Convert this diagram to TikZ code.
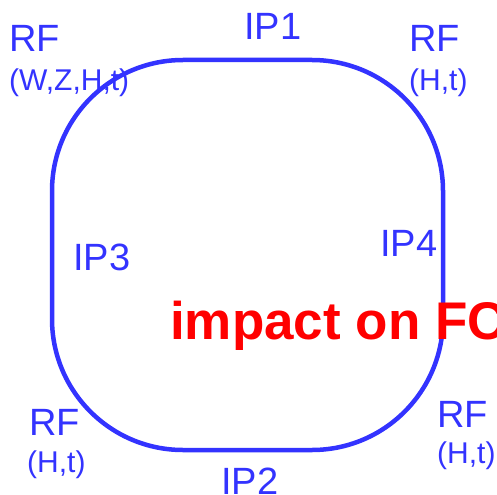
\documentclass[tikz,border=0pt]{standalone}
\usepackage{fontspec}
\setmainfont{Liberation Sans}
\usepackage{tikz}
\usetikzlibrary{positioning}
\definecolor{ringblue}{RGB}{51, 51, 255}
\definecolor{impactred}{RGB}{255, 0, 0}
\tikzset{
  biglabel/.style={ringblue, anchor=base west, inner sep=0pt, font=\fontsize{38bp}{40bp}\selectfont},
  smalllabel/.style={ringblue, anchor=base west, inner sep=0pt, font=\fontsize{30bp}{32bp}\selectfont}
}
\begin{document}
\begin{tikzpicture}[x=1bp, y=-1bp]
        \useasboundingbox (0,0) rectangle (497,495);

        % The ring
        \draw[ringblue, line width=4.5bp, rounded corners=131bp] (52,60) rectangle (443,450);

        % Interaction points
        \node[biglabel] (ipone) at (244,40) {IP1};
        \node[biglabel] (iptwo) at (221,494) {IP2};
        \node[biglabel] (ipthree) at (73,270) {IP3};
        \node[biglabel] (ipfour) at (380,256) {IP4};

        % RF sections
        \node[biglabel] (rftl) at (9,52) {RF};
        \node[smalllabel] (rftlsub) at (9,91) {(W,Z,H,t)};
        \node[biglabel] (rftr) at (409,52) {RF};
        \node[smalllabel] (rftrsub) at (409,91) {(H,t)};
        \node[biglabel] (rfbl) at (29,435) {RF};
        \node[smalllabel] (rfblsub) at (27,472) {(H,t)};
        \node[biglabel] (rfbr) at (437,427) {RF};
        \node[smalllabel] (rfbrsub) at (437,463) {(H,t)};

        \node[impactred, anchor=base west, inner sep=0pt, font=\fontsize{53bp}{56bp}\selectfont\bfseries] (impact) at (170,339) {impact on FC};
    \end{tikzpicture}
\end{document}
